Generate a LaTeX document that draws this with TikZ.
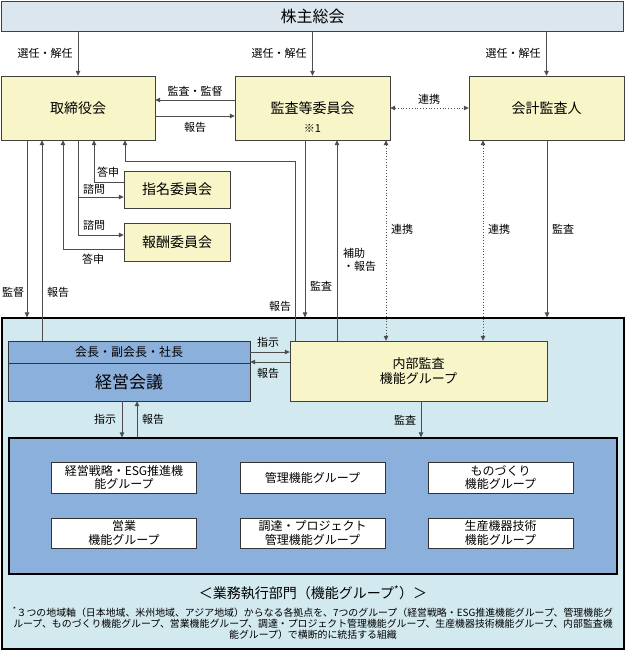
\documentclass[tikz,border=0pt]{standalone}
\usepackage{fontspec}
\setmainfont{Noto Sans CJK JP}
\usetikzlibrary{arrows.meta}
\definecolor{kabufill}{HTML}{DCE6EF}
\definecolor{yelfill}{HTML}{F8F6C9}
\definecolor{bumonfill}{HTML}{D2E9EF}
\definecolor{keieifill}{HTML}{8CB0DC}
\definecolor{linecol}{HTML}{4D4D4D}
\tikzset{
  ybox/.style={draw=black!75,fill=yelfill,inner sep=0pt,align=center,font=\fontsize{14}{16}\selectfont},
  bbox/.style={draw=black!80,fill=keieifill,inner sep=0pt,minimum width=242pt},
  gbox/.style={draw=black!80,fill=white,inner sep=0pt,minimum width=145pt,align=center,font=\fontsize{12}{13.5}\selectfont},
  lbl/.style={inner sep=0pt,font=\fontsize{11}{13}\selectfont},
  arr/.style={draw=linecol,line width=0.8pt,-{Triangle[length=5pt,width=4.5pt]}},
  plain/.style={draw=linecol,line width=0.8pt},
  dots/.style={draw=linecol,line width=0.8pt,dotted,{Triangle[length=5pt,width=4.5pt]}-{Triangle[length=5pt,width=4.5pt]}}
}
\begin{document}
\begin{tikzpicture}[x=1pt,y=-1pt]
\useasboundingbox (0,0) rectangle (625,651);
\node[draw=black,line width=1.2pt,fill=bumonfill,minimum width=622pt,minimum height=331pt] (gaibu) at (313,483.5) {};
\node[draw=black!75,fill=kabufill,minimum width=622pt,minimum height=30pt,font=\fontsize{16}{18}\selectfont] (kabu) at (312.5,16) {株主総会};
\node[ybox,minimum width=154pt,minimum height=64pt] (tori) at (78,108) {取締役会};
\node[ybox,minimum width=155pt,minimum height=64pt] (kansa) at (312.5,108) {監査等委員会};
\node[lbl] (kansanote) at (312.5,128) {※1};
\node[ybox,minimum width=155pt,minimum height=64pt] (kaikei) at (546.5,108) {会計監査人};
\node[ybox,minimum width=106pt,minimum height=37pt] (shimei) at (177,189.5) {指名委員会};
\node[ybox,minimum width=106pt,minimum height=38pt] (hoshu) at (177,242) {報酬委員会};
\node[bbox,minimum height=22pt,font=\fontsize{12}{14}\selectfont] (kaicho) at (129,352) {会長・副会長・社長};
\node[bbox,minimum height=38pt,font=\fontsize{17}{19}\selectfont] (keiei) at (129,382) {経営会議};
\node[ybox,minimum width=257pt,minimum height=60pt,font=\fontsize{13}{15}\selectfont] (naibu) at (418.5,371) {内部監査\\機能グループ};
\node[draw=black,line width=1.2pt,fill=keieifill,minimum width=608pt,minimum height=136pt] (gyomu) at (313,506) {};
\node[gbox,minimum height=31pt] (senryaku) at (124,477.5) {経営戦略・ESG推進機\\能グループ};
\node[gbox,minimum height=31pt] (kanri) at (312.5,477.5) {管理機能グループ};
\node[gbox,minimum height=31pt] (monozukuri) at (500.5,477.5) {ものづくり\\機能グループ};
\node[gbox,minimum height=30pt] (eigyo) at (124,533) {営業\\機能グループ};
\node[gbox,minimum height=30pt] (chotatsu) at (312.5,533) {調達・プロジェクト\\管理機能グループ};
\node[gbox,minimum height=30pt] (seisan) at (500.5,533) {生産機器技術\\機能グループ};
\node[inner sep=0pt,font=\fontsize{14}{16}\selectfont] (bumon) at (313,593) {＜業務執行部門（機能グループ\textsuperscript{*}）＞};
\node[inner sep=0pt,align=center,font=\fontsize{9.9}{11}\selectfont] (chuki) at (313,623)
  {\textsuperscript{*}３つの地域軸（日本地域、米州地域、アジア地域）からなる各拠点を、7つのグループ（経営戦略・ESG推進機能グループ、管理機能グ\\
   ループ、ものづくり機能グループ、営業機能グループ、調達・プロジェクト管理機能グループ、生産機器技術機能グループ、内部監査機\\
   能グループ）で横断的に統括する組織};

\foreach \n in {tori,kansa,kaikei}
  \draw[arr] (kabu.south -| \n) -- (\n.north);
\node[lbl] (sennin1) at (45,53) {選任・解任};
\node[lbl] (sennin2) at (279,53) {選任・解任};
\node[lbl] (sennin3) at (513,53) {選任・解任};

\draw[arr] ([yshift=8pt]kansa.west) -- ([yshift=8pt]kansa.west -| tori.east);
\draw[arr] ([yshift=-8pt]tori.east) -- ([yshift=-8pt]tori.east -| kansa.west);
\draw[dots] (kansa.east) -- (kaikei.west);
\node[lbl] (kantoku1) at (195,91) {監査・監督};
\node[lbl] (hokoku1) at (195,127) {報告};
\node[lbl] (renkei1) at (429,99) {連携};

\draw[arr] (tori.south -| 27,0) -- (gaibu.north -| 27,0);
\draw[arr] (kaicho.north -| 42,0) -- (tori.south -| 42,0);
\draw[arr] ([yshift=-7pt]hoshu.west) -| (tori.south -| 63,0);
\draw[arr] (tori.south -| 78,0) |- ([yshift=-7.5pt]shimei.west);
\draw[arr] (tori.south -| 78,0) |- ([yshift=7pt]hoshu.west);
\draw[arr] ([yshift=7.5pt]shimei.west) -| (tori.south -| 94,0);
\draw[arr] (naibu.north -| 295,0) -- (295,161) -| (tori.south -| 125,0);
\node[lbl] (toshin1) at (108,172) {答申};
\node[lbl] (shimon1) at (94,189) {諮問};
\node[lbl] (shimon2) at (94,225) {諮問};
\node[lbl] (toshin2) at (93,259) {答申};
\node[lbl] (kantoku2) at (13,292) {監督};
\node[lbl] (hokoku2) at (58,292) {報告};
\node[lbl] (hokoku3) at (280,306) {報告};

\draw[arr] (kansa.south -| 305,0) -- (gaibu.north -| 305,0);
\draw[arr] (naibu.north -| 337,0) -- (kansa.south -| 337,0);
\draw[dots] (kansa.south -| 386,0) -- (naibu.north -| 386,0);
\draw[dots] (kaikei.south -| 483,0) -- (naibu.north -| 483,0);
\draw[arr] (kaikei.south -| 547,0) -- (gaibu.north -| 547,0);
\node[lbl] (kansa2) at (321,286) {監査};
\node[lbl,anchor=west,align=left] (hojo) at (343,260) {補助\\・報告};
\node[lbl] (renkei2) at (402,229) {連携};
\node[lbl] (renkei3) at (499,229) {連携};
\node[lbl] (kansa3) at (563,229) {監査};

\draw[arr] (kaicho.east) -- (kaicho.east -| naibu.west);
\draw[arr] ([yshift=-10pt]kaicho.east -| naibu.west) -- ([yshift=-10pt]kaicho.east);
\draw[arr] (keiei.south -| 122,0) -- (gyomu.north -| 122,0);
\draw[arr] (gyomu.north -| 137,0) -- (keiei.south -| 137,0);
\draw[arr] (naibu.south -| 421,0) -- (gyomu.north -| 421,0);
\node[lbl] (shiji1) at (268,342) {指示};
\node[lbl] (hokoku4) at (268,373) {報告};
\node[lbl] (shiji2) at (105,419) {指示};
\node[lbl] (hokoku5) at (153,419) {報告};
\node[lbl] (kansa4) at (405,420) {監査};
\end{tikzpicture}
\end{document}
